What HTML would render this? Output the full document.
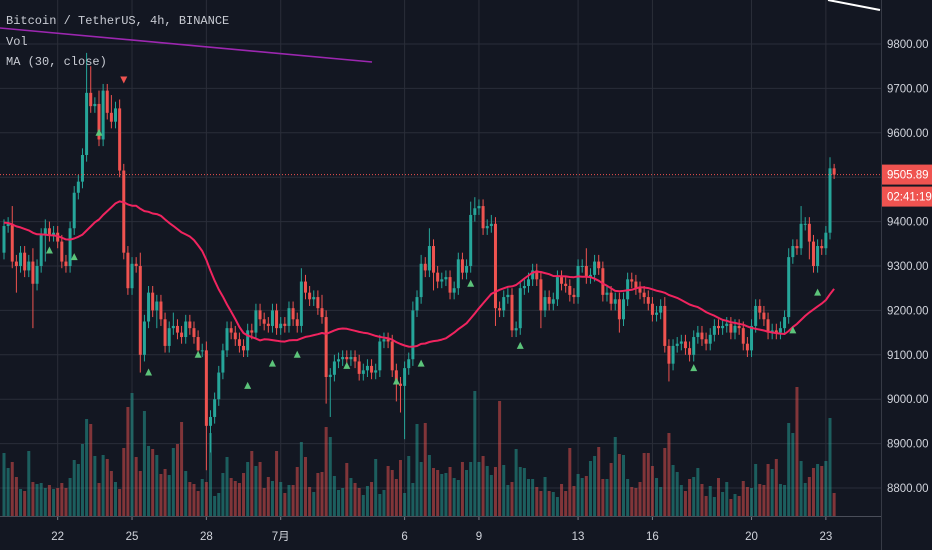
<!DOCTYPE html>
<html><head><meta charset="utf-8"><style>
html,body{margin:0;padding:0;background:#131722;width:932px;height:550px;overflow:hidden}
svg{display:block}
.lg{font-family:"Liberation Mono","DejaVu Sans Mono",monospace;font-size:12px;fill:#c9ccd4}
.ax{font-family:"Liberation Sans","Noto Sans CJK JP",sans-serif;font-size:11.5px;fill:#d1d4dc}
</style></head><body>
<svg id="chart" width="932" height="550" xmlns="http://www.w3.org/2000/svg">
<rect width="932" height="550" fill="#131722"/>
<g id="grid"></g><g id="vol"></g><g id="candles"></g><g id="overlay"></g><g id="axes"></g>
<text class="lg" x="6" y="24">Bitcoin / TetherUS, 4h, BINANCE</text>
<text class="lg" x="6" y="45">Vol</text>
<text class="lg" x="6" y="65">MA (30, close)</text>
</svg>
<script>
const priorCloses=[9420,9410,9430,9400,9390,9410,9420,9400,9380,9400,
9410,9390,9400,9420,9410,9400,9390,9380,9400,9410,
9390,9380,9400,9390,9380,9370,9390,9380,9390];
const closes=[9390,9395,9310,9300,9330,9290,9310,9260,9300,9370,
9385,9370,9375,9355,9310,9300,9385,9465,9490,9550,
9690,9660,9665,9585,9695,9645,9625,9655,9515,9330,
9250,9305,9300,9100,9175,9240,9200,9220,9180,9120,
9160,9165,9150,9140,9175,9160,9140,9110,9110,8940,
8960,9000,9060,9110,9160,9150,9135,9120,9110,9155,
9150,9200,9180,9170,9165,9200,9160,9170,9165,9205,
9180,9165,9265,9240,9225,9230,9205,9185,9050,9055,
9085,9090,9095,9090,9095,9085,9057,9065,9075,9060,
9065,9130,9135,9130,9065,9035,9030,9070,9090,9200,
9230,9305,9290,9345,9285,9265,9270,9275,9240,9250,
9315,9285,9300,9415,9430,9435,9385,9390,9395,9205,
9200,9230,9235,9155,9160,9250,9255,9270,9290,9270,
9200,9230,9215,9225,9275,9260,9255,9235,9230,9300,
9300,9275,9280,9310,9295,9235,9240,9215,9225,9180,
9225,9270,9265,9250,9240,9230,9215,9190,9195,9210,
9120,9080,9120,9125,9130,9115,9100,9140,9150,9135,
9125,9145,9165,9160,9165,9170,9150,9165,9160,9125,
9110,9165,9210,9195,9180,9150,9155,9150,9160,9185,
9320,9345,9340,9395,9395,9355,9300,9345,9340,9375,
9520,9505.89];
const firstOpen=9330;
const wickUp=[15,15,40,15,15,15,15,30,15,15,20,15,15,15,15,15,15,15,15,15,
90,60,15,30,15,15,40,15,20,15,15,15,15,30,15,15,15,15,15,15,
15,30,15,15,15,15,15,15,15,20,15,15,15,15,15,15,15,15,15,15,
15,15,15,15,15,15,15,15,15,15,15,15,30,15,15,15,15,30,15,15,
15,15,15,15,15,15,15,15,15,15,15,15,15,15,15,15,15,15,15,20,
15,20,15,40,15,15,15,15,15,15,15,15,15,30,25,15,15,15,20,15,
15,15,15,15,15,15,15,15,15,15,15,15,15,15,15,15,15,15,15,15,
15,40,15,15,15,15,15,15,15,15,15,15,15,15,15,15,15,15,15,15,
20,15,15,15,15,15,15,15,15,15,15,15,15,15,15,15,15,15,15,15,
15,15,15,15,15,15,15,15,15,15,20,15,15,40,15,15,15,15,15,15,25,10];
const wickDn=[15,15,15,60,15,15,15,100,15,15,60,15,15,15,15,15,15,15,15,15,
15,15,15,15,15,15,15,15,15,15,15,15,15,40,15,15,15,40,15,15,
15,15,15,15,15,15,15,15,15,100,60,15,15,15,15,15,15,15,15,15,
15,15,15,15,15,15,15,15,15,15,15,15,15,15,15,15,15,15,60,90,
15,15,15,15,15,15,15,15,15,15,15,15,15,15,15,40,60,120,15,15,
15,15,15,15,40,15,15,15,15,15,15,15,15,15,15,15,15,15,15,40,
15,15,15,15,15,15,15,15,15,15,40,15,15,15,15,15,15,15,15,15,
15,15,15,15,15,15,15,15,15,30,15,15,15,15,15,15,15,15,15,15,
15,40,15,15,15,15,15,15,15,15,15,15,15,15,15,15,15,15,15,15,
15,15,15,15,15,15,15,15,15,15,15,15,15,15,15,40,15,15,15,15,15,10];
const volumes=[63,48,54,39,27,25,65,34,32,33,28,31,27,28,33,28,38,56,52,72,
97,92,60,33,61,57,45,34,27,68,109,123,59,45,105,70,67,61,42,47,
41,68,72,94,45,34,32,25,37,34,83,20,23,43,59,38,35,33,43,
54,65,50,54,28,39,35,65,34,23,31,31,49,74,59,29,24,43,44,89,
79,40,26,28,53,38,33,28,21,30,34,57,22,26,50,46,37,56,23,60,
33,92,54,93,61,48,46,42,43,49,38,
36,54,46,54,125,54,60,50,41,49,115,51,31,34,67,49,48,37,37,29,
25,39,25,24,19,32,25,68,30,42,38,40,55,60,69,37,37,53,79,
62,61,37,29,28,34,63,63,50,38,29,68,83,51,44,31,25,37,39,48,
32,20,30,19,38,24,34,17,22,20,35,29,28,52,32,31,52,47,57,32,
31,93,83,129,55,33,39,48,52,50,55,98,23];
const priceTicks=[9800,9700,9600,9500,9400,9300,9200,9100,9000,8900,8800];
const dateTickIdx=[13,31,49,67,97,115,139,157,181,199];
const dateTickLabels=["22","25","28","7月","6","9","13","16","20","23"];
const buyIdx=[11,17,23,35,47,59,65,71,83,95,101,113,125,167,191,197];
const buyPrice=[9335,9320,9600,9060,9100,9030,9080,9100,9075,9040,9080,9260,9120,9070,9155,9240];
const sellIdx=[29];const sellPrice=[9720];
const lastPrice=9505.89;const countdown="02:41:19";

const NS="http://www.w3.org/2000/svg";
const X=i=>4+i*4.13;
const Y=p=>44+(9800-p)*0.444;
const YV=v=>516-v;
const W=881,B=516;
function mk(tag,attrs,parent){const e=document.createElementNS(NS,tag);for(const k in attrs)e.setAttribute(k,attrs[k]);parent.appendChild(e);return e;}
const grid=document.getElementById('grid'),vol=document.getElementById('vol'),cg=document.getElementById('candles'),ov=document.getElementById('overlay'),ax=document.getElementById('axes');
priceTicks.forEach(p=>{const l=mk('line',{x1:0,x2:W,y1:Y(p),y2:Y(p),stroke:'#2a2e39','stroke-width':1},grid);


const t=mk('text',{x:887,y:Y(p)+4,class:'ax'},ax);t.textContent=p.toFixed(2);

});
dateTickIdx.forEach((d,k)=>{const l=mk('line',{x1:X(d),x2:X(d),y1:0,y2:B,stroke:'#2a2e39','stroke-width':1},grid);


mk('line',{x1:X(d),x2:X(d),y1:B,y2:B+4,stroke:'#787b86'},ax);
const t=mk('text',{x:X(d),y:540,class:'ax','text-anchor':'middle'},ax);t.textContent=dateTickLabels[k];

});
const a1=mk('line',{x1:W+0.5,x2:W+0.5,y1:0,y2:550,stroke:'#363a45','stroke-width':1},ax);


const a2=mk('line',{x1:0,x2:W,y1:B+0.5,y2:B+0.5,stroke:'#4a4e59','stroke-width':1},ax);



const opens=closes.map((c,i)=>i===0?firstOpen:closes[i-1]);
volumes.forEach((v,i)=>{const up=i<closes.length?closes[i]>=opens[i]:true;
const r=mk('rect',{x:X(i)-1.5,y:YV(v),width:3,height:v,fill:up?'#26a69a':'#ef5350',opacity:0.5},vol);

});
closes.forEach((c,i)=>{const o=opens[i],up=c>=o,col=up?'#26a69a':'#ef5350';
const hi=Math.max(o,c)+wickUp[i],lo=Math.min(o,c)-wickDn[i];
const w=mk('line',{x1:X(i),x2:X(i),y1:Y(hi),y2:Y(lo),stroke:col,'stroke-width':1},cg);


const top=Y(Math.max(o,c)),h=Math.max(1,Y(Math.min(o,c))-top);
const r=mk('rect',{x:X(i)-1.5,y:top,width:3,height:h,fill:col},cg);

});
// MA 30 (warm-up from prior closes)
const all=priorCloses.concat(closes),off=priorCloses.length;
let pts=[];closes.forEach((c,i)=>{const j=i+off;const arr=all.slice(Math.max(0,j-29),j+1);const m=arr.reduce((a,b)=>a+b,0)/arr.length;pts.push(X(i).toFixed(1)+','+Y(m).toFixed(1));});
const ma=mk('polyline',{points:pts.join(' '),fill:'none',stroke:'#f0245f','stroke-width':2,'stroke-linejoin':'round'},ov);


buyIdx.forEach((b,k)=>{const x=X(b),y=Y(buyPrice[k]);
const t=mk('polygon',{points:`${x-3.5},${y+3} ${x+3.5},${y+3} ${x},${y-4}`,fill:'#5cc47a'},ov);

});
sellIdx.forEach((b,k)=>{const x=X(b),y=Y(sellPrice[k]);
const t=mk('polygon',{points:`${x-3.5},${y-3} ${x+3.5},${y-3} ${x},${y+4}`,fill:'#ef5350'},ov);

});
const tl=mk('line',{x1:0,y1:28,x2:372,y2:62,stroke:'#9c27b0','stroke-width':1.6},ov);


const tl2=mk('line',{x1:828,y1:0,x2:880,y2:10,stroke:'#ffffff','stroke-width':2},ov);


const ly=Y(lastPrice);
const pl=mk('line',{x1:0,x2:W,y1:ly,y2:ly,stroke:'#ef5350','stroke-width':1,'stroke-dasharray':'1,2'},ov);


const lb=mk('rect',{x:882,y:ly-10,width:50,height:20,fill:'#ef5350'},ax);


const lt=mk('text',{x:887,y:ly+4,class:'ax',style:'fill:#fff'},ax);lt.textContent=lastPrice.toFixed(2);


const cb=mk('rect',{x:882,y:ly+12,width:50,height:20,fill:'#ef5350'},ax);


const ct=mk('text',{x:887,y:ly+26,class:'ax',style:'fill:#fff'},ax);ct.textContent=countdown;


</script>
</body></html>
